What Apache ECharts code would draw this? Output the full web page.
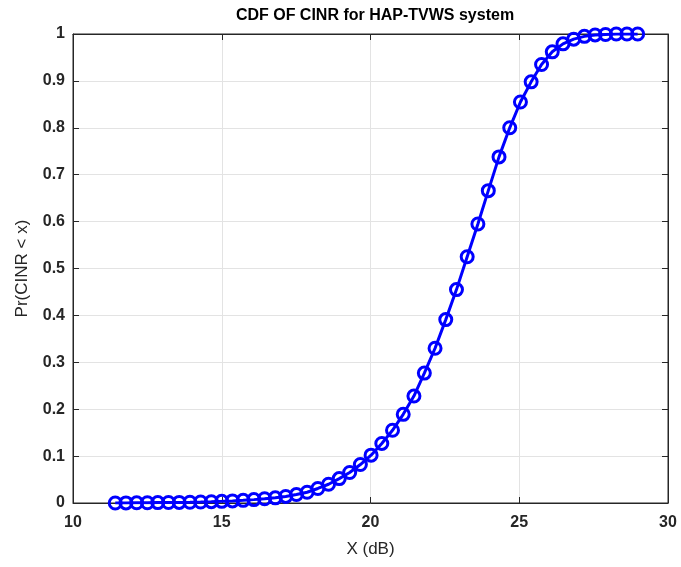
<!DOCTYPE html>
<html>
<head>
<meta charset="utf-8">
<script src="https://cdn.jsdelivr.net/npm/echarts@6/dist/echarts.min.js"></script>
<style>html,body{margin:0;padding:0;background:#fff;}#c{width:681px;height:567px;}</style>
</head>
<body>
<div id="c"></div>
<script>
const titleText = 'CDF OF CINR for HAP-TVWS system';
const xLabel = 'X (dB)';
const yLabel = 'Pr(CINR < x)';
const xTicks = [10, 15, 20, 25, 30];
const yTicks = [0, 0.1, 0.2, 0.3, 0.4, 0.5, 0.6, 0.7, 0.8, 0.9, 1];
const cinrX = [11.42, 11.78, 12.14, 12.50, 12.85, 13.21, 13.57, 13.93, 14.29, 14.65,
  15.00, 15.36, 15.72, 16.08, 16.44, 16.80, 17.15, 17.51, 17.87, 18.23,
  18.59, 18.95, 19.30, 19.66, 20.02, 20.38, 20.74, 21.10, 21.46, 21.81,
  22.17, 22.53, 22.89, 23.25, 23.61, 23.96, 24.32, 24.68, 25.04, 25.40,
  25.75, 26.11, 26.47, 26.83, 27.19, 27.55, 27.90, 28.26, 28.62, 28.98];
const cdfY = [0, 0.0002, 0.0004, 0.0006, 0.0008, 0.001, 0.0013, 0.0017, 0.0022, 0.0028,
  0.0035, 0.0045, 0.0057, 0.0072, 0.009, 0.011, 0.014, 0.018, 0.023, 0.031,
  0.040, 0.052, 0.065, 0.082, 0.102, 0.127, 0.155, 0.189, 0.228, 0.277,
  0.330, 0.391, 0.455, 0.525, 0.595, 0.666, 0.738, 0.800, 0.855, 0.898,
  0.935, 0.962, 0.979, 0.989, 0.995, 0.998, 0.999, 1, 1, 1];

const data = cinrX.map((x, i) => [x, cdfY[i]]);
const chart = echarts.init(document.getElementById('c'), null, {renderer: 'canvas'});
const tickFont = {color: '#262626', fontSize: 16, fontWeight: 'bold', fontFamily: 'Liberation Sans, Arial, sans-serif'};
const axisLineStyle = {color: '#262626', width: 1};
chart.setOption({
  animation: false,
  backgroundColor: '#ffffff',
  title: {
    text: titleText, left: 370, top: 3, textAlign: 'center',
    textStyle: {fontSize: 16, fontWeight: 'bold', color: '#000', fontFamily: 'Liberation Sans, Arial, sans-serif'}
  },
  grid: {left: 73, right: 13, top: 34, bottom: 64, show: true, borderColor: '#262626', borderWidth: 1},
  xAxis: [{
    type: 'value', min: xTicks[0], max: xTicks[xTicks.length - 1], interval: 5,
    name: xLabel, nameLocation: 'middle', nameGap: 38,
    nameTextStyle: {fontSize: 17, color: '#262626', fontFamily: 'Liberation Sans, Arial, sans-serif'},
    axisLine: {show: true, onZero: false, lineStyle: axisLineStyle},
    axisTick: {show: true, inside: true, length: 6, lineStyle: axisLineStyle},
    axisLabel: Object.assign({margin: 12}, tickFont),
    splitLine: {show: true, lineStyle: {color: '#e3e3e3', width: 1}}
  }, {
    type: 'value', position: 'top', min: xTicks[0], max: xTicks[xTicks.length - 1], interval: 5,
    axisLine: {show: true, onZero: false, lineStyle: axisLineStyle},
    axisTick: {show: true, inside: true, length: 6, lineStyle: axisLineStyle},
    axisLabel: {show: false}, splitLine: {show: false}
  }],
  yAxis: [{
    type: 'value', min: 0, max: 1, interval: 0.1,
    name: yLabel, nameLocation: 'middle', nameGap: 42, nameRotate: 90,
    nameTextStyle: {fontSize: 17, color: '#262626', fontFamily: 'Liberation Sans, Arial, sans-serif'},
    axisLine: {show: true, onZero: false, lineStyle: axisLineStyle},
    axisTick: {show: true, inside: true, length: 6, lineStyle: axisLineStyle},
    axisLabel: Object.assign({margin: 8, formatter: v => String(Math.round(v * 10) / 10)}, tickFont),
    splitLine: {show: true, lineStyle: {color: '#e3e3e3', width: 1}}
  }, {
    type: 'value', position: 'right', min: 0, max: 1, interval: 0.1,
    axisLine: {show: true, onZero: false, lineStyle: axisLineStyle},
    axisTick: {show: true, inside: true, length: 6, lineStyle: axisLineStyle},
    axisLabel: {show: false}, splitLine: {show: false}
  }],
  series: [{
    type: 'line', data: data, xAxisIndex: 0, yAxisIndex: 0,
    symbol: 'circle', symbolSize: 12, showAllSymbol: true,
    lineStyle: {color: '#0000ff', width: 3},
    itemStyle: {color: 'rgba(255,255,255,0)', borderColor: '#0000ff', borderWidth: 3},
    emphasis: {disabled: true}
  }]
});
</script>
</body>
</html>
